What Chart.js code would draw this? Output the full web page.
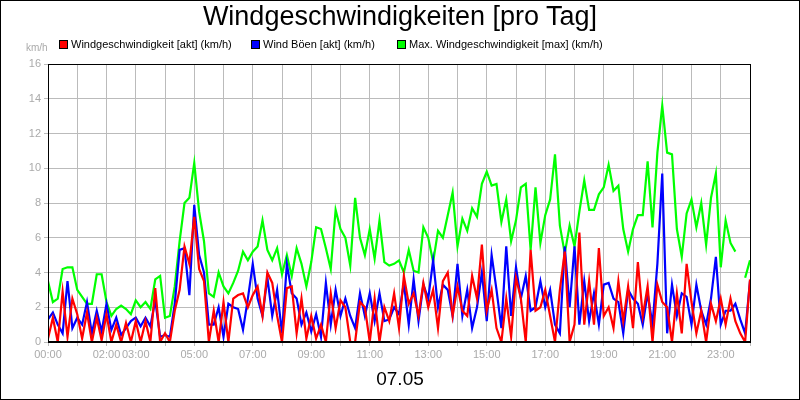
<!DOCTYPE html>
<html lang="de">
<head>
<meta charset="UTF-8">
<title>Windgeschwindigkeiten</title>
<script src="https://cdn.jsdelivr.net/npm/chart.js"></script>
<style>
  * { margin: 0; padding: 0; box-sizing: border-box; }
  body { width: 800px; height: 400px; background: #fff; font-family: Arial, 'Liberation Sans', sans-serif; overflow: hidden; }
  .frame { position: absolute; left: 0; top: 0; width: 800px; height: 400px; border: 1px solid #000; }
  canvas { position: absolute; left: 0; top: 0; }
  .title { position: absolute; top: 1px; width: 800px; text-align: center; font-size: 27px; color: #000; }
  .unit { position: absolute; left: 26px; top: 42px; font-size: 10px; color: #aaa; }
  .legend { position: absolute; top: 38px; font-size: 11px; color: #000; white-space: nowrap; }
  .legend i { display: inline-block; width: 9px; height: 9px; border: 1px solid #000; margin-right: 3px; vertical-align: -1px; }
  .date { position: absolute; top: 368px; width: 800px; text-align: center; font-size: 19px; color: #000; }
</style>
</head>
<body>
<canvas id="c" width="800" height="400"></canvas>
<div class="frame"></div>
<div class="title">Windgeschwindigkeiten [pro Tag]</div>
<div class="unit">km/h</div>
<div class="legend" style="left:59px"><i style="background:#f00"></i>Windgeschwindigkeit [akt] (km/h)</div>
<div class="legend" style="left:251px"><i style="background:#00f"></i>Wind Böen [akt] (km/h)</div>
<div class="legend" style="left:397px"><i style="background:#0f0"></i>Max. Windgeschwindigkeit [max] (km/h)</div>
<div class="date">07.05</div>
<script>
// Werte alle 10 Minuten, 00:00 bis 24:00
const speed = [
  0.2,1.4,0,2.9,0.3,2.5, 1.6,0.2,1.7,0,1.4,0.1, 1.6,0,1.0,0,1.1,0, 1.2,0,1.2,0,3.1,0, 0.5,0,1.8,3.0,5.5,4.5,
  7.2,4.2,3.5,0,1.8,0, 2.3,0,2.5,2.7,2.8,2.0, 2.7,3.2,1.5,4.0,3.4,1.5, 0,3.1,3.2,0.5,2.5,0.2,
  1.5,0.2,1.0,0,2.8,0.8, 2.4,2.0,0,0,2.3,2.0, 0,2.5,0,2.0,1.2,2.8, 0.8,3.8,2.2,2.8,1.5,3.4,
  2.0,3.0,0.8,3.5,4.0,1.5, 3.2,1.8,1.5,3.8,2.5,5.6, 1.8,3.0,0.8,0,2.5,0.3, 3.7,2.5,0,5.3,1.8,2.0,
  3.0,1.5,0,3.0,5.2,0, 1.0,6.3,1.0,3.5,1.0,5.4, 1.5,2.0,0.8,3.5,1.2,3.2, 0.8,4.6,1.5,3.2,0,3.3,
  2.3,2.0,0,2.8,0.5,4.5, 2.3,0.5,1.8,0,2.2,1.2, 2.5,1.0,2.5,1.2,0.5,0, 3.6
];
const gusts = [
  1.3,1.7,1.0,0.5,3.5,0.8, 1.4,1.0,2.3,0.5,1.8,0.6, 2.2,0.7,1.4,0.4,0.8,1.2, 1.4,0.9,1.4,0.9,2.4,0.3, 0.4,0.3,2.2,5.3,5.4,2.7,
  7.9,5.0,4.0,1.0,1.0,2.0, 0.3,2.2,2.0,1.9,0.7,2.5, 4.5,2.5,1.5,3.7,1.5,3.0, 0.5,4.5,2.8,2.5,1.0,1.7,
  0.6,1.6,0.3,3.4,1.0,3.0, 1.5,2.5,1.5,0.8,2.8,1.5, 2.8,1.2,2.8,1.2,1.3,2.0, 1.6,3.4,1.0,3.6,1.2,3.3,
  2.5,4.7,2.0,3.3,3.0,1.5, 4.5,1.5,3.0,0.8,2.0,4.0, 1.2,5.0,3.0,0.8,5.5,1.5, 4.3,2.5,3.8,1.8,2.0,3.5,
  2.0,3.0,1.0,0.5,5.5,2.0, 5.5,1.0,3.5,1.2,2.8,1.0, 3.3,3.4,2.5,2.3,0.5,3.0, 2.5,2.2,1.0,2.8,1.0,4.5,
  9.7,0.5,3.3,1.5,2.8,2.6, 1.0,3.3,1.8,1.0,2.5,4.9, 1.0,1.8,1.8,2.2,1.3,0.5, 3.5
];
const maxSpeed = [
  3.5,2.3,2.5,4.2,4.3,4.3, 3.0,2.6,2.2,2.2,3.9,3.9, 2.3,1.5,1.9,2.1,1.9,1.6, 2.4,2.0,2.3,1.9,3.6,3.8, 1.4,1.5,3.2,5.8,8.0,8.3,
  10.3,7.5,5.8,2.8,2.6,4.0, 3.2,2.8,3.4,4.1,5.2,4.7, 5.2,5.5,7.0,5.3,4.7,5.4, 3.9,5.0,3.8,5.4,4.5,3.2,
  4.6,6.6,6.5,5.4,4.2,7.6, 6.5,6.0,4.4,8.3,6.0,5.0, 6.5,4.8,7.0,4.6,4.4,4.5, 4.7,4.0,5.3,4.1,4.0,6.6,
  6.0,4.6,6.4,6.0,7.3,8.6, 5.5,7.1,6.4,7.7,7.2,9.1, 9.8,9.0,9.1,6.9,8.2,5.8, 7.0,8.9,9.1,5.3,8.9,5.7,
  7.3,8.2,10.8,6.7,5.1,6.7, 5.5,7.5,9.3,7.6,7.6,8.5, 8.9,10.2,8.7,9.0,6.5,5.2, 6.5,7.3,7.3,10.4,6.6,10.9,
  13.6,10.9,10.8,6.5,4.9,7.4, 8.2,6.6,8.0,5.6,8.3,9.7, 4.3,7.0,5.7,5.2,null,3.7, 4.7
];
const tickLabels = { 0: '00:00', 2: '02:00', 3: '03:00', 5: '05:00', 7: '07:00', 9: '09:00', 11: '11:00',
  13: '13:00', 15: '15:00', 17: '17:00', 19: '19:00', 21: '21:00', 23: '23:00' };

const toPoints = arr => arr.map((v, i) => ({ x: i / 6, y: v }));

// schwarzer Rahmen um die Zeichenfläche
const plotBorder = {
  id: 'plotBorder',
  afterDraw(chart) {
    const { ctx, chartArea: a } = chart;
    ctx.save();
    ctx.strokeStyle = '#000';
    ctx.lineWidth = 1;
    ctx.strokeRect(a.left + 0.5, a.top + 0.5, a.right - a.left, a.bottom - a.top);
    ctx.lineWidth = 2;
    ctx.beginPath();
    ctx.moveTo(a.left, a.bottom);
    ctx.lineTo(a.right, a.bottom);
    ctx.stroke();
    ctx.restore();
  }
};

const line = (data, color, order) => ({
  data: toPoints(data), borderColor: color, borderWidth: 2.2, pointRadius: 0,
  tension: 0, spanGaps: false, order
});

new Chart(document.getElementById('c'), {
  type: 'line',
  data: {
    datasets: [
      line(speed, '#ff0000', 0),
      line(gusts, '#0000ff', 1),
      line(maxSpeed, '#00ff00', 2)
    ]
  },
  options: {
    responsive: false,
    animation: false,
    layout: { padding: { top: 64, right: 50, left: 0, bottom: 0 } },
    plugins: { legend: { display: false }, tooltip: { enabled: false } },
    scales: {
      x: {
        type: 'linear', min: 0, max: 24,
        afterFit: s => { s.height = 58; },
        grid: { color: '#bbb', drawTicks: true, tickLength: 4 },
        border: { display: false },
        ticks: {
          stepSize: 1, autoSkip: false, maxRotation: 0, color: '#aaa', padding: 2,
          font: { family: 'Arial', size: 11 },
          callback: v => tickLabels[v] || ''
        }
      },
      y: {
        min: 0, max: 16,
        afterFit: s => { s.width = 48; },
        grid: { color: '#bbb', drawTicks: true, tickLength: 4 },
        border: { display: false },
        ticks: { stepSize: 2, color: '#aaa', padding: 3, font: { family: 'Arial', size: 11 } }
      }
    }
  },
  plugins: [plotBorder]
});
</script>
</body>
</html>
